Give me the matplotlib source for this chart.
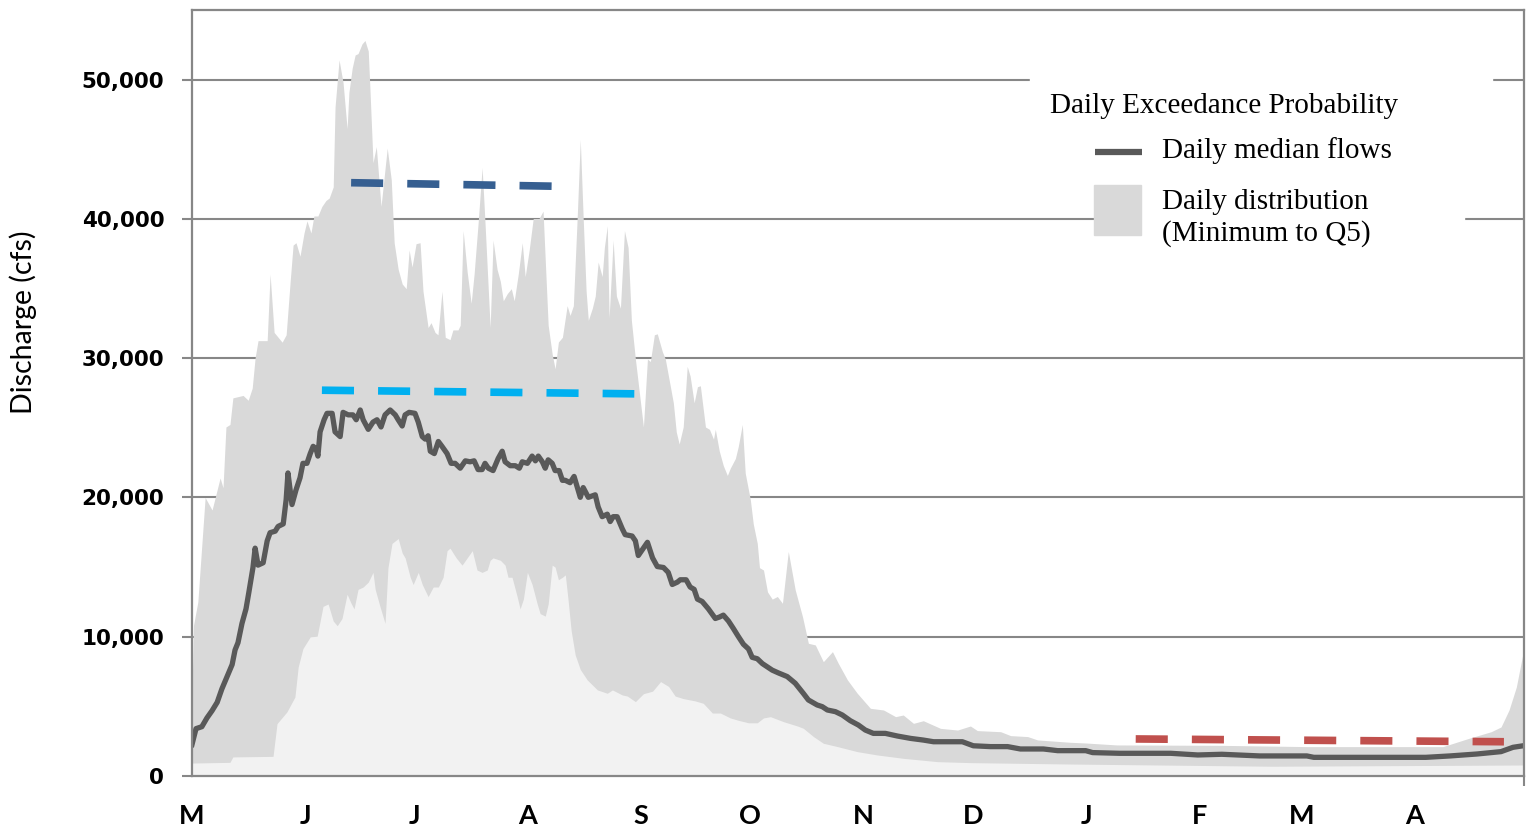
import numpy as np
import matplotlib
matplotlib.use("Agg")
import matplotlib.pyplot as plt
from matplotlib.lines import Line2D
from matplotlib.patches import Rectangle
from matplotlib.ticker import FuncFormatter

# -------------------------------
# data (day 0 = 1 May, day 365 = 30 April)
# -------------------------------
month_days = [0, 31, 61, 92, 123, 153, 184, 214, 245, 276, 304, 335]
month_labels = ["M", "J", "J", "A", "S", "O", "N", "D", "J", "F", "M", "A"]

# Q5 (upper edge of daily distribution)
upper_day = [0.0, 0.4, 1.6, 3.6, 5.5, 7.7, 8.5, 9.3, 10.4, 11.2,
             14.0, 15.4, 16.5, 17.3, 18.1, 20.6, 21.4, 22.5, 24.7, 25.8,
             26.9, 27.7, 28.5, 29.6, 30.7, 31.5, 32.6, 33.4, 34.5, 35.6,
             36.7, 37.6, 38.7, 39.2, 40.3, 41.4, 42.5, 43.0, 43.9, 44.7,
             45.5, 46.6, 47.4, 48.3, 48.8, 49.6, 50.5, 51.8, 53.5, 54.6,
             55.4, 56.5, 57.6, 58.7, 59.5, 60.3, 61.4, 62.5, 63.3, 64.7,
             65.5, 66.6, 67.4, 68.5, 69.4, 70.7, 71.5, 72.9, 73.5, 74.3,
             75.4, 76.5, 77.3, 78.4, 79.5, 80.3, 81.7, 82.5, 83.6, 84.5,
             85.3, 86.4, 87.5, 88.3, 89.4, 90.5, 91.3, 92.4, 93.5, 95.1,
             96.2, 97.6, 98.7, 99.5, 100.4, 101.5, 102.8, 103.6, 104.5, 105.6,
             106.4, 107.2, 108.0, 108.6, 109.7, 110.5, 111.3, 112.4, 113.0, 113.8,
             114.3, 115.4, 116.3, 117.4, 118.5, 119.5, 120.4, 121.5, 122.6, 123.7,
             124.8, 125.6, 126.7, 127.5, 128.9, 129.7, 130.8, 131.9, 132.7, 133.5,
             134.6, 135.7, 136.5, 137.6, 138.5, 139.3, 140.7, 141.8, 142.9, 143.4,
             144.5, 145.6, 146.7, 147.5, 148.9, 149.7, 150.8, 151.6, 153.0, 153.8,
             154.9, 155.5, 156.6, 157.7, 159.0, 160.4, 161.8, 163.4, 165.3, 167.3,
             168.9, 170.8, 173.0, 175.5, 177.1, 179.6, 182.3, 185.9, 189.5, 192.8,
             194.9, 197.7, 200.4, 205.1, 209.8, 213.3, 215.2, 221.6, 224.3, 229.0,
             231.7, 240.7, 244.9, 253.4, 282.2, 305.5, 342.8, 350.2, 356.0, 358.7,
             360.9, 362.9, 364.2, 365.0]
upper_cfs = [6000, 10800, 12500, 20000, 19100, 21400, 20700, 25060, 25240, 27150,
             27325, 26980, 27850, 30040, 31260, 31260, 36030, 31850, 31150, 31680,
             35510, 38120, 38290, 37320, 38990, 39860, 38990, 40210, 40210, 40900,
             41320, 41500, 42300, 48040, 51420, 49780, 46480, 49090, 50830, 51770,
             51870, 52570, 52810, 52050, 49090, 44040, 45190, 40900, 45080, 42820,
             38290, 36380, 35330, 34990, 37770, 36550, 38220, 38290, 34810, 32200,
             32550, 31850, 31680, 34810, 31500, 31330, 32030, 32030, 32370, 39160,
             36200, 33940, 36030, 39690, 43690, 39690, 32200, 38470, 36380, 35510,
             34120, 34640, 34990, 34120, 36030, 38290, 35860, 37770, 40030, 40030,
             40560, 32370, 30290, 29240, 31160, 31500, 33770, 33070, 33770, 40380,
             45700, 40030, 34810, 32720, 33590, 34460, 36900, 35860, 37950, 39510,
             32900, 38470, 34460, 33590, 39160, 37950, 32720, 29940, 27500, 25060,
             29940, 29760, 31680, 31750, 30460, 29940, 28370, 26800, 24710, 23840,
             25060, 29410, 28720, 26800, 27950, 28020, 25060, 24890, 24190, 24890,
             23320, 22280, 21580, 22100, 22800, 23670, 25240, 21750, 19840, 18100,
             16700, 14960, 14790, 13220, 12700, 12890, 12400, 16120, 13360, 11430,
             9530, 9410, 8210, 8930, 8090, 6900, 5940, 4860, 4740, 4260,
             4380, 3780, 3970, 3420, 3300, 3590, 3260, 3180, 2900, 2830,
             2590, 2420, 2370, 2230, 2200, 2110, 2110, 2730, 3180, 3520,
             4740, 6390, 8120, 9200]

# minimum (lower edge of daily distribution)
low_day = [0.0, 10.4, 11.2, 22.2, 23.3, 26.0, 28.2, 29.1, 30.4, 32.4,
           34.3, 35.9, 37.3, 38.7, 39.8, 41.1, 42.5, 43.6, 44.4, 45.5,
           46.9, 48.3, 49.6, 50.2, 51.5, 52.9, 53.7, 54.8, 56.5, 57.6,
           58.4, 59.8, 60.6, 62.0, 63.1, 64.7, 66.1, 67.5, 68.8, 69.9,
           70.7, 72.4, 74.0, 75.4, 76.8, 78.1, 79.5, 80.9, 81.7, 82.5,
           84.5, 85.8, 86.6, 87.7, 89.1, 89.9, 90.8, 91.9, 93.2, 94.6,
           95.4, 96.8, 97.6, 98.7, 99.5, 100.4, 101.5, 102.3, 103.1, 103.9,
           105.0, 106.4, 108.3, 111.1, 113.8, 115.2, 117.9, 119.3, 121.5, 123.7,
           126.2, 128.4, 130.6, 132.4, 134.6, 137.9, 140.1, 142.6, 144.8, 147.5,
           149.7, 152.5, 154.9, 156.6, 158.5, 162.1, 165.9, 167.5, 170.3, 173.0,
           176.9, 182.3, 187.8, 194.9, 204.3, 213.3, 240.7, 296.1, 365.0]
low_cfs = [930, 980, 1370, 1410, 3760, 4600, 5670, 7830, 9150, 9990,
           10040, 12180, 12350, 11130, 10790, 11310, 13050, 12400, 12000, 13400,
           13570, 13920, 14620, 13400, 12180, 10960, 14960, 16700, 17050, 16010,
           15660, 14270, 13750, 14620, 13750, 12880, 13570, 13570, 14270, 16180,
           16360, 15660, 15140, 15660, 16180, 14790, 14620, 14790, 15490, 15660,
           15490, 15140, 14270, 14270, 12880, 12000, 12700, 14620, 13750, 12350,
           11660, 11480, 12350, 15140, 15000, 14090, 14270, 14440, 12530, 10440,
           8700, 7650, 6900, 6180, 5940, 6180, 5820, 5740, 5340, 5910,
           6090, 6780, 6430, 5740, 5560, 5390, 5220, 4520, 4520, 4170,
           4000, 3820, 3820, 4170, 4260, 3900, 3590, 3430, 2830, 2350,
           2110, 1750, 1510, 1270, 1030, 960, 860, 700, 790]

# daily median flows
med_day = [0.0, 1.1, 2.7, 4.1, 5.5, 6.9, 8.2, 9.6, 11.0, 11.8,
           12.6, 13.7, 14.8, 15.6, 16.7, 17.3, 18.1, 19.5, 20.6, 21.4,
           22.8, 23.6, 25.0, 25.8, 26.3, 27.4, 28.5, 29.6, 30.4, 31.5,
           32.4, 33.2, 34.0, 34.5, 35.1, 36.2, 37.0, 38.4, 39.2, 40.6,
           41.4, 42.8, 44.1, 45.0, 46.1, 46.9, 48.3, 49.6, 50.7, 51.8,
           52.9, 54.3, 55.7, 56.5, 57.6, 58.4, 59.5, 61.1, 62.0, 63.1,
           63.9, 64.7, 65.3, 66.4, 67.5, 68.5, 69.9, 71.0, 72.1, 73.5,
           74.9, 76.2, 77.3, 78.4, 79.5, 80.3, 81.2, 82.5, 83.9, 85.0,
           85.8, 87.2, 88.6, 89.7, 90.5, 91.9, 93.2, 94.1, 94.9, 96.0,
           96.8, 97.6, 98.7, 99.5, 100.6, 101.5, 102.3, 103.6, 104.7, 105.6,
           106.4, 107.2, 108.6, 110.5, 111.3, 112.4, 113.8, 114.6, 115.4, 116.5,
           117.9, 118.7, 120.6, 121.5, 122.3, 123.7, 124.8, 126.2, 127.5, 129.2,
           130.5, 131.6, 133.0, 133.8, 135.4, 136.5, 137.6, 138.5, 139.8, 141.5,
           143.4, 144.5, 145.6, 147.0, 148.3, 149.7, 151.1, 152.5, 153.5, 154.9,
           156.3, 157.7, 159.0, 160.7, 163.1, 165.3, 167.5, 168.9, 171.3, 172.7,
           174.1, 176.3, 178.2, 180.4, 182.6, 184.5, 186.7, 190.0, 193.3, 196.9,
           200.4, 203.2, 211.1, 214.1, 218.8, 223.5, 227.0, 233.3, 237.2, 244.9,
           246.8, 254.2, 268.2, 275.6, 282.2, 292.6, 305.5, 307.4, 338.1, 344.7,
           352.1, 358.7, 362.0, 365.0]
med_cfs = [2260, 3400, 3540, 4170, 4690, 5290, 6260, 7130, 8000, 9050,
           9570, 10960, 12000, 13220, 14960, 16360, 15140, 15310, 16880, 17470,
           17580, 17920, 18100, 19840, 21760, 19490, 20540, 21410, 22450, 22450,
           23150, 23670, 23500, 22970, 24710, 25580, 26040, 26040, 24710, 24370,
           26110, 25930, 25930, 25580, 26280, 25580, 24890, 25410, 25580, 25060,
           25930, 26280, 25930, 25580, 25130, 25930, 26110, 26040, 25410, 24370,
           24190, 24430, 23320, 23150, 24020, 23670, 23150, 22450, 22450, 22100,
           22630, 22560, 22630, 22000, 22000, 22450, 22100, 21930, 22800, 23320,
           22560, 22280, 22280, 22100, 22560, 22450, 22970, 22630, 22970, 22560,
           22100, 22700, 22450, 21930, 21930, 21230, 21230, 21060, 21510, 20710,
           20010, 20710, 20010, 20190, 19320, 18620, 18800, 18270, 18620, 18620,
           17750, 17330, 17230, 16880, 15830, 16360, 16780, 15660, 15040, 14970,
           14620, 13750, 13920, 14090, 14090, 13570, 13400, 12700, 12530, 12000,
           11310, 11410, 11550, 11130, 10610, 10020, 9460, 9120, 8520, 8420,
           8070, 7830, 7600, 7400, 7140, 6660, 5940, 5460, 5100, 4980,
           4740, 4620, 4380, 3970, 3660, 3300, 3060, 3060, 2870, 2700,
           2580, 2460, 2460, 2170, 2110, 2110, 1940, 1940, 1820, 1820,
           1680, 1630, 1630, 1510, 1560, 1440, 1440, 1340, 1340, 1440,
           1580, 1750, 2060, 2180]

# dashed reference levels
dark_day, dark_cfs = [43.6, 98.7], [42600, 42350]
cyan_day, cyan_cfs = [35.6, 121.2], [27700, 27440]
red_day, red_cfs = [258.6, 359.5], [2660, 2460]

assert len(upper_day) == len(upper_cfs)
assert len(low_day) == len(low_cfs)
assert len(med_day) == len(med_cfs)

# -------------------------------
# figure
# -------------------------------
W, H = 1532, 830
fig = plt.figure(figsize=(W / 100, H / 100), dpi=100)
ax = fig.add_axes([192 / W, 54 / H, 1332 / W, 766 / H])

GRID = "#878787"

ax.fill_between(upper_day, 0, upper_cfs, color="#D9D9D9", lw=0, zorder=1)
ax.fill_between(low_day, 0, low_cfs, color="#F2F2F2", lw=0, zorder=1.1)
ax.plot(med_day, med_cfs, color="#595959", lw=3.8, solid_joinstyle="round", zorder=3)

dash = (4.2, 3.15)
ax.plot(dark_day, dark_cfs, color="#365F91", lw=5.5, dashes=dash, zorder=4)
ax.plot(cyan_day, cyan_cfs, color="#00B0F0", lw=5.5, dashes=dash, zorder=4)
ax.plot(red_day, red_cfs, color="#C0504D", lw=5.5, dashes=dash, zorder=4)

ax.set_xlim(0, 365)
ax.set_ylim(0, 55000)
ax.set_yticks(np.arange(0, 50001, 10000))
ax.yaxis.set_major_formatter(FuncFormatter(lambda v, p: f"{int(v):,}"))
ax.set_xticks(month_days)
ax.set_xticklabels(month_labels)
ax.set_xticks([0, 365], minor=True)

ax.grid(axis="y", color=GRID, lw=1.5, zorder=0.5)
ax.set_axisbelow(True)
for s in ax.spines.values():
    s.set_color(GRID)
    s.set_linewidth(1.6)
    s.set_zorder(5)

ax.tick_params(axis="y", direction="out", length=7, width=1.5, color=GRID, pad=13,
               labelsize=15.5)
ax.tick_params(axis="x", which="major", length=0, pad=20, labelsize=19.5)
ax.tick_params(axis="x", which="minor", direction="out", length=7, width=1.5, color=GRID)
for t in ax.get_yticklabels():
    t.set_fontweight("bold")
    t.set_family("DejaVu Sans")
for t in ax.get_xticklabels():
    t.set_fontweight("bold")
    t.set_family("Lato")

ax.set_ylabel("Discharge (cfs)", family="Lato", fontsize=20.5)
ax.yaxis.set_label_coords(-0.116, 0.5927)

# -------------------------------
# legend (built by hand to match the layout)
# -------------------------------
def fx(x):
    return x / W

def fy(y):
    return 1 - y / H

serif = "Liberation Serif"
fig.add_artist(Rectangle((fx(1030), fy(205)), fx(1492) - fx(1030), fy(62) - fy(205),
                         transform=fig.transFigure, color="white", zorder=2))
fig.add_artist(Rectangle((fx(1142), fy(252)), fx(1464) - fx(1142), fy(200) - fy(252),
                         transform=fig.transFigure, color="white", zorder=2))
fig.text(fx(1050), fy(106), "Daily Exceedance Probability", family=serif, fontsize=21,
         ha="left", va="center", zorder=3)
fig.add_artist(Line2D([fx(1095), fx(1142)], [fy(152), fy(152)], transform=fig.transFigure,
                      color="#595959", lw=4.5, solid_capstyle="butt", zorder=3))
fig.text(fx(1162), fy(151), "Daily median flows", family=serif, fontsize=21,
         ha="left", va="center", zorder=3)
fig.add_artist(Rectangle((fx(1094), fy(235)), fx(1141) - fx(1094), fy(185) - fy(235),
                         transform=fig.transFigure, color="#D9D9D9", zorder=3))
fig.text(fx(1162), fy(218), "Daily distribution\n(Minimum to Q5)", family=serif, fontsize=21,
         ha="left", va="center", linespacing=1.2, zorder=3)

fig.savefig("out.png", dpi=100)
